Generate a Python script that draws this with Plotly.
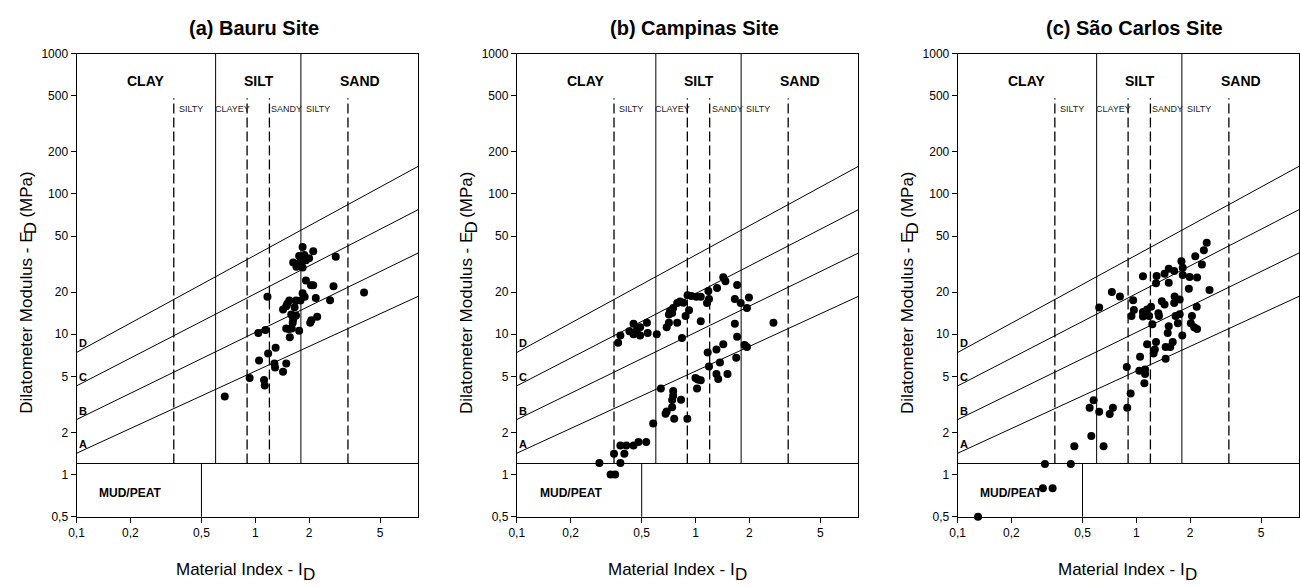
import numpy as np
import plotly.graph_objects as go

# ---------------- data ----------------
panel_titles = ["(a) Bauru Site", "(b) Campinas Site", "(c) São Carlos Site"]

bauru_id = [1.84, 2.11, 2.82, 1.76, 1.88, 2.00, 1.92, 1.63, 1.73, 1.80, 1.84, 1.70,
            1.92, 2.05, 2.11, 2.74, 4.06, 1.17, 1.84, 1.89, 2.18, 2.62, 1.79, 1.69,
            1.55, 1.51, 1.49, 1.43, 1.66, 1.59, 1.63, 1.69, 1.63, 1.62, 2.06, 2.22,
            2.03, 1.49, 1.54, 1.60, 1.76, 1.14, 1.04, 1.56, 1.30, 1.18, 1.05, 1.28,
            1.49, 1.29, 1.43, 0.93, 1.12, 1.13, 0.675]
bauru_ed = [41.9, 39.1, 35.7, 36.1, 36.7, 34.8, 33.7, 32.4, 31.6, 33.3, 29.9, 30.3,
            24.2, 22.3, 22.3, 22.0, 19.8, 18.5, 19.6, 18.5, 18.1, 17.5, 17.4, 17.4,
            17.4, 16.5, 15.8, 15.0, 15.6, 13.8, 13.3, 13.6, 12.8, 12.1, 12.6, 13.3,
            12.1, 11.0, 10.9, 11.0, 10.6, 10.7, 10.2, 9.5, 8.0, 7.3, 6.5, 6.2,
            6.2, 5.8, 5.4, 4.88, 4.73, 4.31, 3.6]

campinas_id = [1.43, 1.47, 1.71, 1.32, 1.18, 1.99, 1.66, 1.79, 1.94, 1.19, 1.16, 0.903,
               0.95, 1.01, 1.07, 0.82, 0.79, 0.855, 0.75, 0.72, 0.71, 0.74, 0.92, 0.88,
               0.71, 0.69, 0.79, 1.07, 0.84, 0.607, 0.535, 0.54, 0.49, 0.49, 0.45, 0.45,
               0.427, 0.38, 0.369, 0.47,
               2.73, 1.66, 1.71, 1.88, 1.94, 1.43, 1.31, 1.17, 1.69, 1.37, 1.19, 1.31,
               1.34, 1.51, 1.00, 1.03, 1.07, 1.02, 0.64, 0.75, 0.75, 0.74, 0.83, 0.74,
               0.69, 0.68, 0.76, 0.90, 0.58, 0.53, 0.48, 0.45, 0.41, 0.38, 0.40, 0.35,
               0.38, 0.29, 0.335, 0.355]
campinas_ed = [25.5, 23.9, 22.4, 21.4, 20.3, 18.3, 17.8, 16.7, 15.4, 17.8, 16.7, 19.0,
               18.7, 18.5, 18.5, 17.1, 16.7, 16.8, 15.4, 14.6, 13.8, 14.2, 14.8, 13.5,
               12.1, 11.2, 12.1, 12.4, 9.4, 10.0, 12.1, 10.2, 11.2, 9.8, 11.9, 10.0,
               10.5, 9.8, 8.7, 10.7,
               12.1, 11.9, 9.6, 8.4, 8.1, 8.5, 7.8, 7.4, 6.8, 6.3, 5.9, 5.2,
               4.8, 5.2, 4.88, 4.75, 4.7, 4.11, 4.11, 3.94, 3.64, 3.40, 3.42, 3.02,
               2.82, 2.71, 2.50, 2.50, 2.31, 1.71, 1.71, 1.61, 1.61, 1.61, 1.41, 1.41,
               1.21, 1.21, 1.0, 1.0]

saocarlos_id = [2.48, 2.39, 2.14, 2.33, 2.57, 1.79, 1.82, 1.63, 1.52, 1.44, 1.30, 1.09,
                1.29, 1.52, 1.82, 1.99, 2.19, 1.97, 2.18, 2.05, 2.02, 2.11, 2.19, 1.81,
                1.71, 1.75, 1.66, 1.75, 1.64, 1.63, 1.44, 1.39, 1.52, 1.50, 1.60, 1.55,
                1.46, 1.46, 1.29, 1.27, 1.25, 1.15, 1.05, 1.12, 1.12, 1.11, 1.04, 0.885,
                0.93, 0.89, 0.74, 0.71, 0.62, 0.577, 0.548, 0.56, 0.656, 0.45, 0.43, 0.308,
                0.62, 0.73, 0.81, 0.96, 0.97, 0.94, 1.09, 1.15, 1.21, 1.09, 1.18, 1.23,
                1.34, 1.33, 0.30, 0.34, 0.13]
saocarlos_ed = [44.9, 39.7, 35.9, 31.4, 20.7, 33.1, 29.8, 28.2, 29.3, 27.0, 26.0, 25.9,
                23.1, 23.3, 26.4, 25.6, 25.4, 21.1, 15.7, 13.5, 12.0, 11.2, 10.9, 9.8,
                12.0, 13.9, 13.5, 17.7, 18.6, 16.7, 16.3, 17.2, 11.4, 10.2, 8.8, 8.1,
                8.1, 6.7, 8.8, 7.8, 7.3, 8.5, 6.9, 5.6, 5.2, 4.48, 5.5, 5.85,
                3.78, 2.99, 2.99, 2.70, 2.80, 3.38, 2.99, 1.88, 1.59, 1.59, 1.19, 1.19,
                15.5, 20.0, 18.6, 17.5, 14.9, 13.5, 14.4, 15.0, 15.7, 13.4, 13.5, 11.8,
                13.5, 14.1, 0.80, 0.80, 0.5]

# chart lines (Marchetti: ED[bar] = 10^(n + m log ID))
line_labels = ["A", "B", "C", "D"]
line_m = [0.585, 0.621, 0.657, 0.694]
line_n = [1.737, 2.013, 2.289, 2.564]

solid_bounds = [0.6, 1.8]
dashed_bounds = [0.35, 0.9, 1.2, 3.3]
mud_ed = 1.2
mud_id = 0.5
dashed_top = 480
main_labels = ["CLAY", "SILT", "SAND"]
main_label_x = [0.243, 1.05, 3.85]
sub_labels = ["SILTY", "CLAYEY", "SANDY", "SILTY"]
sub_label_x = [0.35, 0.6, 1.2, 1.8]
sub_label_shift = [3, -3, 0, 3]

x_title_main, x_title_sub = "Material Index - I", "D"
y_title_main, y_title_sub, y_title_tail = "Dilatometer Modulus - E", "D", "(MPa)"

x_ticks = [0.1, 0.2, 0.5, 1, 2, 5]
x_ticktext = ["0,1", "0,2", "0,5", "1", "2", "5"]
y_ticks = [0.5, 1, 2, 5, 10, 20, 50, 100, 200, 500, 1000]
y_ticktext = ["0,5", "1", "2", "5", "10", "20", "50", "100", "200", "500", "1000"]

X_MIN, X_MAX = 0.1, 8.15
Y_MIN, Y_MAX = 0.5, 1000

# ---------------- layout geometry ----------------
W, H = 1300, 587
panel_left = [69, 512.3, 956.3]
panel_width = 344
plot_top, plot_bottom = 47.7, 522.3
xtitle_offset = [170.5, 162.0, 171.2]

FONT = "Liberation Sans, Arial, sans-serif"
TITLE_SIZE = 17

ARIAL_W = {' ': 278, '(': 333, ')': 333, '-': 333, 'A': 667, 'D': 722, 'E': 667, 'I': 278,
           'M': 833, 'P': 667, 'a': 556, 'd': 556, 'e': 556, 'i': 222, 'l': 222, 'm': 833,
           'n': 556, 'o': 556, 'r': 333, 's': 500, 't': 278, 'u': 556, 'x': 500}


def tw(s, size):
    return sum(ARIAL_W.get(c, 556) for c in s) / 1000.0 * size


def ed_line(m, n, x):
    return 10 ** (n + m * np.log10(x)) / 10.0


def px(xp, yp):
    return xp / W, 1 - yp / H


fig = go.Figure()
annotations = []
panels = [(bauru_id, bauru_ed), (campinas_id, campinas_ed), (saocarlos_id, saocarlos_ed)]
tfont = dict(family=FONT, size=TITLE_SIZE, color="black")

line_style = dict(color="black", width=1)
for i, (xs, ys) in enumerate(panels):
    sfx = "" if i == 0 else str(i + 1)
    xa, ya = "x" + sfx, "y" + sfx
    # diagonal lines
    for lab, m, n in zip(line_labels, line_m, line_n):
        xv = np.array([X_MIN, X_MAX])
        fig.add_trace(go.Scatter(x=xv, y=ed_line(m, n, xv), mode="lines", line=line_style,
                                 xaxis=xa, yaxis=ya, hoverinfo="skip", showlegend=False))
        annotations.append(dict(x=np.log10(X_MIN), y=np.log10(ed_line(m, n, X_MIN)),
                                xref=xa, yref=ya, text="<b>%s</b>" % lab, showarrow=False,
                                xanchor="left", yanchor="middle", xshift=0, yshift=9,
                                font=dict(family=FONT, size=11, color="black")))
    for xb in solid_bounds:
        fig.add_trace(go.Scatter(x=[xb, xb], y=[mud_ed, Y_MAX], mode="lines", line=line_style,
                                 xaxis=xa, yaxis=ya, hoverinfo="skip", showlegend=False))
    for xb in dashed_bounds:
        fig.add_trace(go.Scatter(x=[xb, xb], y=[mud_ed, dashed_top], mode="lines",
                                 line=dict(color="black", width=1.3, dash="10px,4px"),
                                 xaxis=xa, yaxis=ya, hoverinfo="skip", showlegend=False))
    fig.add_trace(go.Scatter(x=[X_MIN, X_MAX], y=[mud_ed, mud_ed], mode="lines", line=line_style,
                             xaxis=xa, yaxis=ya, hoverinfo="skip", showlegend=False))
    fig.add_trace(go.Scatter(x=[mud_id, mud_id], y=[Y_MIN, mud_ed], mode="lines", line=line_style,
                             xaxis=xa, yaxis=ya, hoverinfo="skip", showlegend=False))
    # data
    fig.add_trace(go.Scatter(x=xs, y=ys, mode="markers",
                             marker=dict(color="black", size=8, line=dict(width=0)),
                             cliponaxis=False, xaxis=xa, yaxis=ya, showlegend=False))

    for lab, lx in zip(main_labels, main_label_x):
        annotations.append(dict(x=np.log10(lx), y=np.log10(634), xref=xa, yref=ya,
                                text="<b>%s</b>" % lab, showarrow=False,
                                xanchor="center", yanchor="middle",
                                font=dict(family=FONT, size=14, color="black")))
    for lab, lx, sh in zip(sub_labels, sub_label_x, sub_label_shift):
        annotations.append(dict(x=np.log10(lx), y=np.log10(405), xref=xa, yref=ya,
                                text=lab, showarrow=False, xanchor="left", yanchor="middle",
                                xshift=sh,
                                font=dict(family=FONT, size=9, color="#222")))
    annotations.append(dict(x=np.log10(0.2), y=np.log10(0.74), xref=xa, yref=ya,
                            text="<b>MUD/PEAT</b>", showarrow=False,
                            xanchor="center", yanchor="middle",
                            font=dict(family=FONT, size=12, color="black")))

    left = panel_left[i]
    dom_x = [left / W, min((left + panel_width) / W, 1.0)]
    dom_y = [(H - plot_bottom) / H, (H - plot_top) / H]
    common = dict(showgrid=False, zeroline=False, showline=True, linecolor="black",
                  linewidth=1, mirror=True, ticks="outside", ticklen=5, tickcolor="black",
                  tickfont=dict(family=FONT, size=12, color="black"))
    fig.update_layout(**{
        "xaxis" + sfx: dict(type="log", range=[np.log10(X_MIN), np.log10(X_MAX)], domain=dom_x,
                            anchor=ya, tickvals=x_ticks, ticktext=x_ticktext, **common),
        "yaxis" + sfx: dict(type="log", range=[np.log10(Y_MIN), np.log10(Y_MAX)], domain=dom_y,
                            anchor=xa, tickvals=y_ticks, ticktext=y_ticktext, **common),
    })

    # panel title
    cx = left + panel_width / 2 + 6.5
    x0, y0 = px(cx, 21.7)
    annotations.append(dict(x=x0, y=y0, xref="paper", yref="paper",
                            text="<b>%s</b>" % panel_titles[i], showarrow=False,
                            xanchor="center", yanchor="middle",
                            font=dict(family=FONT, size=20, color="black")))

    # x title with subscript
    w_main, w_sub = tw(x_title_main, TITLE_SIZE), tw(x_title_sub, TITLE_SIZE)
    xc = left + xtitle_offset[i]
    xl = xc - (w_main + w_sub + 0.5) / 2
    x0, y0 = px(xl + w_main / 2, 576.5)
    annotations.append(dict(x=x0, y=y0, xref="paper", yref="paper", text=x_title_main,
                            showarrow=False, xanchor="center", yanchor="middle", font=tfont))
    x0, y0 = px(xl + w_main + 0.5 + w_sub / 2, 581)
    annotations.append(dict(x=x0, y=y0, xref="paper", yref="paper", text=x_title_sub,
                            showarrow=False, xanchor="center", yanchor="middle", font=tfont))

    # y title with subscript (rotated)
    w1 = tw(y_title_main, TITLE_SIZE)
    w2 = tw(y_title_sub, TITLE_SIZE)
    w3 = tw(y_title_tail, TITLE_SIZE)
    gap = tw(" ", TITLE_SIZE)
    total = w1 + w2 + gap + w3
    ystart = 292 + total / 2
    yx = left - 50
    for txt, yc, dx in [(y_title_main, ystart - w1 / 2, 0),
                        (y_title_sub, ystart - w1 - w2 / 2, 4.5),
                        (y_title_tail, ystart - w1 - w2 - gap - w3 / 2, 0)]:
        x0, y0 = px(yx + dx, yc)
        annotations.append(dict(x=x0, y=y0, xref="paper", yref="paper", text=txt,
                                showarrow=False, textangle=-90, xanchor="center",
                                yanchor="middle", font=tfont))

fig.update_layout(width=W, height=H, margin=dict(l=0, r=0, t=0, b=0),
                  paper_bgcolor="white", plot_bgcolor="white",
                  annotations=annotations, showlegend=False)
fig.write_html("out.html")
